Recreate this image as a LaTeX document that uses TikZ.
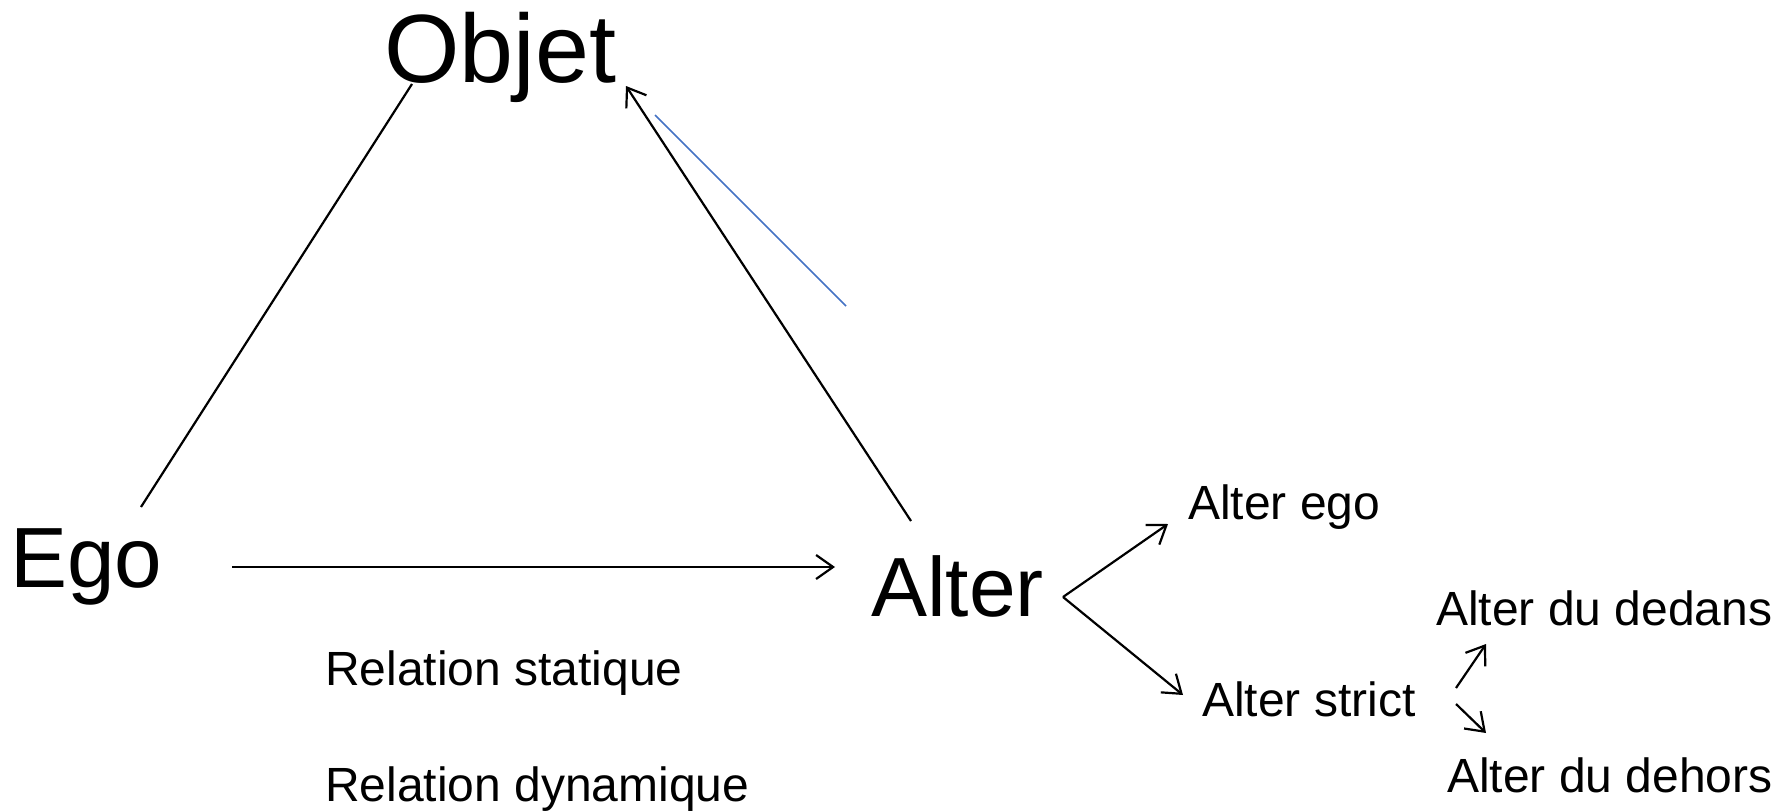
\documentclass[tikz,border=0pt]{standalone}
\usepackage{fontspec}
\setmainfont{Liberation Sans}
\usetikzlibrary{arrows.meta}
\definecolor{bluel}{RGB}{68,114,196}
\tikzset{
  lbl/.style={inner sep=0pt, anchor=base west},
  small/.style={lbl, font=\fontsize{48}{50}\selectfont},
  conn/.style={line width=2.2pt, black},
  arr/.style={conn, -{Straight Barb[length=17pt,width=24pt,line width=2.2pt]}},
}
\begin{document}
\begin{tikzpicture}[x=1pt,y=-1pt]
\useasboundingbox (0,0) rectangle (1781,811);
\node[lbl, font=\fontsize{97}{100}\selectfont] (objet) at (384,82) {Objet};
\node[lbl, font=\fontsize{85.5}{88}\selectfont] (ego) at (10,587) {Ego};
\node[lbl, font=\fontsize{84}{86}\selectfont] (alter) at (871,616) {Alter};
\node[small] (aego) at (1188,519) {Alter ego};
\node[small] (astrict) at (1202,716) {Alter strict};
\node[small] (adedans) at (1436,625) {Alter du dedans};
\node[small] (adehors) at (1447,792) {Alter du dehors};
\node[small] (rstat) at (325,685) {Relation statique};
\node[small] (rdyn) at (325,801) {Relation dynamique};
% connector end points
\coordinate (egoT) at (141,507);
\coordinate (objL) at (412,84);
\coordinate (altT) at (911,521);
\coordinate (objR) at (626,86);
\coordinate (blueA) at (655,115);
\coordinate (blueB) at (846,306);
\coordinate (egoR) at (232,567);
\coordinate (altL) at (835,567);
\coordinate (altR) at (1063,597);
\coordinate (aegoL) at (1168,524);
\coordinate (astrL) at (1183,695);
\coordinate (astrRu) at (1456,688);
\coordinate (adedB) at (1486,644);
\coordinate (astrRd) at (1456,704);
\coordinate (adehT) at (1486,733);
\draw[conn] (egoT) -- (objL);
\draw[arr] (altT) -- (objR);
\draw[line width=1.7pt, bluel] (blueA) -- (blueB);
\draw[arr] (egoR) -- (altL);
\draw[arr] (altR) -- (aegoL);
\draw[arr] (altR) -- (astrL);
\draw[arr] (astrRu) -- (adedB);
\draw[arr] (astrRd) -- (adehT);
\end{tikzpicture}
\end{document}
